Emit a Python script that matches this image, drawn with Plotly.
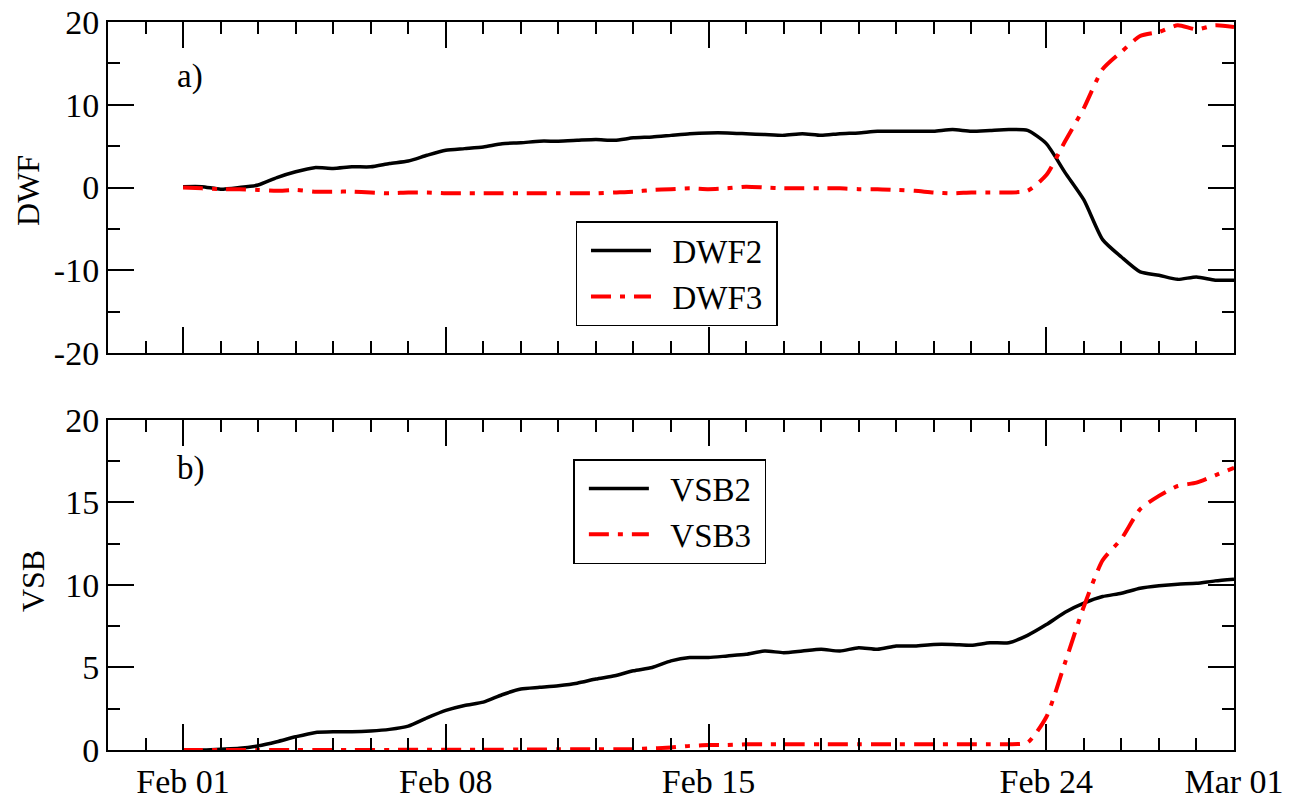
import pandas as pd
import plotly.graph_objects as go

# ---- data ----
times = pd.date_range("2019-02-01", "2019-03-01", freq="12h")

dwf2 = [0.1, 0.1, -0.2, 0.0, 0.3, 1.2, 1.9, 2.4, 2.3, 2.5,
        2.5, 2.9, 3.2, 3.9, 4.5, 4.7, 4.9, 5.3, 5.4, 5.6,
        5.6, 5.7, 5.8, 5.7, 6.0, 6.1, 6.3, 6.5, 6.6, 6.6,
        6.5, 6.4, 6.3, 6.5, 6.3, 6.5, 6.6, 6.8, 6.8, 6.8,
        6.8, 7.0, 6.8, 6.9, 7.0, 6.9, 5.3, 1.8, -1.5, -6.3,
        -8.4, -10.2, -10.6, -11.1, -10.8, -11.2, -11.2]
dwf3 = [0.0, -0.1, -0.2, -0.2, -0.3, -0.4, -0.3, -0.5, -0.5, -0.5,
        -0.6, -0.7, -0.6, -0.6, -0.7, -0.7, -0.7, -0.7, -0.7, -0.7,
        -0.7, -0.7, -0.7, -0.6, -0.5, -0.3, -0.2, -0.1, -0.2, -0.1,
        0.1, 0.0, -0.1, -0.1, -0.1, -0.1, -0.2, -0.2, -0.3, -0.4,
        -0.6, -0.7, -0.6, -0.6, -0.6, -0.4, 1.5, 5.6, 9.6, 14.3,
        16.4, 18.3, 18.8, 19.6, 19.1, 19.6, 19.4]
vsb2 = [0.0, 0.0, 0.05, 0.1, 0.25, 0.5, 0.8, 1.05, 1.1, 1.1,
        1.15, 1.25, 1.45, 1.95, 2.4, 2.7, 2.9, 3.35, 3.7, 3.8,
        3.9, 4.05, 4.3, 4.5, 4.8, 5.0, 5.4, 5.6, 5.6, 5.7,
        5.8, 6.0, 5.9, 6.0, 6.1, 6.0, 6.2, 6.1, 6.3, 6.3,
        6.4, 6.4, 6.35, 6.5, 6.5, 6.95, 7.6, 8.35, 8.9, 9.3,
        9.5, 9.8, 9.95, 10.05, 10.1, 10.25, 10.35]
vsb3 = [0.0, 0.0, 0.0, 0.0, 0.0, 0.0, 0.0, 0.0, 0.0, 0.0,
        0.0, 0.0, 0.02, 0.02, 0.02, 0.02, 0.02, 0.02, 0.03, 0.03,
        0.05, 0.05, 0.05, 0.05, 0.05, 0.1, 0.15, 0.25, 0.3, 0.3,
        0.35, 0.35, 0.35, 0.35, 0.35, 0.35, 0.35, 0.35, 0.35, 0.35,
        0.35, 0.35, 0.35, 0.35, 0.35, 0.45, 2.0, 5.3, 8.7, 11.5,
        12.8, 14.6, 15.4, 16.0, 16.2, 16.65, 17.1]

x_tickvals = ["2019-02-01", "2019-02-08", "2019-02-15", "2019-02-24", "2019-03-01"]
x_ticktext = ["Feb 01", "Feb 08", "Feb 15", "Feb 24", "Mar 01"]
x_range = ["2019-01-30", "2019-03-01"]
y1_tickvals = [-20, -10, 0, 10, 20]
y1_ticktext = ["-20", "-10", "0", "10", "20"]
y2_tickvals = [0, 5, 10, 15, 20]
y2_ticktext = ["0", "5", "10", "15", "20"]

FONT = "Liberation Serif, Times New Roman, Times, serif"
RED_DASH = "20px,9px,5px,9px"
PAD = "\u00a0\u00a0"

fig = go.Figure()
fig.add_trace(go.Scatter(x=times, y=dwf2, name=PAD + "DWF2" + "\u00a0", mode="lines",
                         line=dict(color="black", width=3.5, shape="spline", smoothing=0.6),
                         xaxis="x", yaxis="y", legend="legend"))
fig.add_trace(go.Scatter(x=times, y=dwf3, name=PAD + "DWF3" + "\u00a0", mode="lines",
                         line=dict(color="#ff0000", width=4, dash=RED_DASH, shape="spline", smoothing=0.6),
                         xaxis="x", yaxis="y", legend="legend"))
fig.add_trace(go.Scatter(x=times, y=vsb2, name=PAD + "VSB2" + "\u00a0", mode="lines",
                         line=dict(color="black", width=3.5, shape="spline", smoothing=0.6),
                         xaxis="x2", yaxis="y2", legend="legend2"))
fig.add_trace(go.Scatter(x=times, y=vsb3, name=PAD + "VSB3" + "\u00a0", mode="lines",
                         line=dict(color="#ff0000", width=4, dash=RED_DASH, shape="spline", smoothing=0.6),
                         xaxis="x2", yaxis="y2", legend="legend2"))

common_axis = dict(showline=True, linecolor="black", linewidth=2, mirror="allticks",
                   ticks="inside", ticklen=26, tickwidth=1.5, tickcolor="black",
                   showgrid=False, zeroline=False, automargin=False,
                   ticklabeloverflow="allow",
                   tickfont=dict(family=FONT, size=34, color="black"))

xminor = dict(ticks="inside", ticklen=12, tickwidth=1.5, tickcolor="black",
              dtick=86400000, tick0="2019-02-01", showgrid=False)

legend_common = dict(xanchor="center", yanchor="top", bgcolor="white",
                     bordercolor="black", borderwidth=1.5, itemwidth=60, indentation=9,
                     font=dict(family=FONT, size=33, color="black"), tracegroupgap=0)

label_font = dict(family=FONT, size=33, color="black")

# the page body adds an 8px offset, so the figure is 8px smaller and margins shifted
fig.update_layout(
    template="none",
    width=1298, height=792,
    paper_bgcolor="white", plot_bgcolor="white",
    margin=dict(l=100, r=72, t=14, b=50, autoexpand=False),
    font=dict(family=FONT, size=34, color="black"),
    xaxis=dict(domain=[0, 1], anchor="y", type="date", range=x_range,
               tickmode="array", tickvals=x_tickvals, ticktext=x_ticktext,
               showticklabels=False, minor=xminor, **common_axis),
    yaxis=dict(domain=[0.5453, 1.0], anchor="x", range=[-20, 20],
               tickmode="array", tickvals=y1_tickvals, ticktext=y1_ticktext,
               minor=dict(ticks="inside", ticklen=12, tickwidth=1.5, tickcolor="black",
                          dtick=5, tick0=0, showgrid=False),
               **common_axis),
    xaxis2=dict(domain=[0, 1], anchor="y2", type="date", range=x_range,
                tickmode="array", tickvals=x_tickvals, ticktext=x_ticktext,
                showticklabels=True, minor=xminor, **common_axis),
    yaxis2=dict(domain=[0.0, 0.4533], anchor="x2", range=[0, 20],
                tickmode="array", tickvals=y2_tickvals, ticktext=y2_ticktext,
                minor=dict(ticks="inside", ticklen=12, tickwidth=1.5, tickcolor="black",
                           dtick=2.5, tick0=0, showgrid=False),
                **common_axis),
    legend=dict(x=0.5049, y=0.7266, **legend_common),
    legend2=dict(x=0.4990, y=0.3997, **legend_common),
    annotations=[
        dict(text="DWF", x=-0.0710, y=0.768, xref="paper", yref="paper",
             xanchor="center", yanchor="middle", textangle=-90, showarrow=False,
             font=dict(family=FONT, size=32, color="black")),
        dict(text="VSB", x=-0.0666, y=0.232, xref="paper", yref="paper",
             xanchor="center", yanchor="middle", textangle=-90, showarrow=False,
             font=dict(family=FONT, size=32, color="black")),
        dict(text="a)", x=0.0595, y=0.925, xref="paper", yref="paper",
             xanchor="left", yanchor="middle", showarrow=False, font=label_font),
        dict(text="b)", x=0.0595, y=0.386, xref="paper", yref="paper",
             xanchor="left", yanchor="middle", showarrow=False, font=label_font),
    ],
)

fig.write_html("out.html")
